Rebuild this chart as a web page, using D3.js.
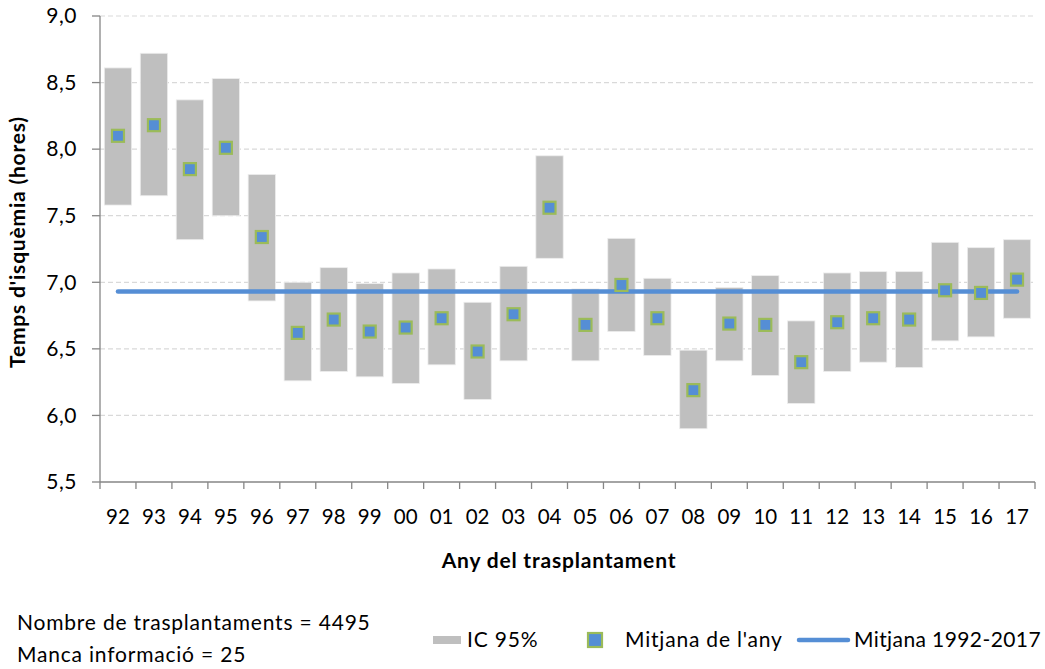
<!DOCTYPE html>
<html>
<head>
<meta charset="utf-8">
<script src="https://cdn.jsdelivr.net/npm/d3@7"></script>
<style>
  html, body { margin: 0; padding: 0; background: #fff; }
  svg { display: block; font-family: Lato, "Open Sans", sans-serif; }
</style>
</head>
<body>
<svg id="chart" width="1045" height="669"></svg>
<script>
const years = ["92","93","94","95","96","97","98","99","00","01","02","03","04","05","06","07","08","09","10","11","12","13","14","15","16","17"];
const yearMean = [8.10, 8.18, 7.85, 8.01, 7.34, 6.62, 6.72, 6.63, 6.66, 6.73, 6.48, 6.76, 7.56, 6.68, 6.98, 6.73, 6.19, 6.69, 6.68, 6.40, 6.70, 6.73, 6.72, 6.94, 6.92, 7.02];
const ciLow  = [7.58, 7.65, 7.32, 7.50, 6.86, 6.26, 6.33, 6.29, 6.24, 6.38, 6.12, 6.41, 7.18, 6.41, 6.63, 6.45, 5.90, 6.41, 6.30, 6.09, 6.33, 6.40, 6.36, 6.56, 6.59, 6.73];
const ciHigh = [8.61, 8.72, 8.37, 8.53, 7.81, 7.00, 7.11, 6.99, 7.07, 7.10, 6.85, 7.12, 7.95, 6.95, 7.33, 7.03, 6.49, 6.96, 7.05, 6.71, 7.07, 7.08, 7.08, 7.30, 7.26, 7.32];
const overallMean = 6.93;
const yTicks = [5.5, 6.0, 6.5, 7.0, 7.5, 8.0, 8.5, 9.0];
const legendLabels = ["IC 95%", "Mitjana de l'any", "Mitjana 1992-2017"];
const noteLines = ["Nombre de trasplantaments = 4495", "Manca informació = 25"];

const svg = d3.select("#chart");
const pL = 100, pR = 1035, pT = 16, pB = 482;

const x = d3.scaleBand().domain(years).range([pL, pR]).padding(0);
const y = d3.scaleLinear().domain([5.5, 9.0]).range([pB, pT]);
const bw = x.bandwidth();
const barW = bw * 0.76;

const fmt = v => d3.format(".1f")(v).replace(".", ",");

// gridlines
svg.append("g").selectAll("line").data(yTicks.filter(t => t > 5.5)).join("line")
  .attr("x1", pL).attr("x2", pR)
  .attr("y1", d => y(d)).attr("y2", d => y(d))
  .attr("stroke", "#D9D9D9").attr("stroke-width", 1.2).attr("stroke-dasharray", "5,3");

// CI bars
svg.append("g").selectAll("rect").data(years).join("rect")
  .attr("x", (d) => x(d) + (bw - barW) / 2)
  .attr("width", barW)
  .attr("y", (d, i) => y(ciHigh[i]))
  .attr("height", (d, i) => y(ciLow[i]) - y(ciHigh[i]))
  .attr("fill", "#BFBFBF")
  .attr("stroke", "#EDEDED").attr("stroke-width", 0.8);

// overall mean line
const lineGen = d3.line().x(d => x(d) + bw / 2).y(() => y(overallMean));
svg.append("path").datum(years)
  .attr("d", lineGen)
  .attr("fill", "none").attr("stroke", "#558ED5").attr("stroke-width", 4.5)
  .attr("stroke-linecap", "round");

// mean markers
const ms = 12;
svg.append("g").selectAll("rect").data(years).join("rect")
  .attr("x", d => x(d) + bw / 2 - ms / 2)
  .attr("y", (d, i) => y(yearMean[i]) - ms / 2)
  .attr("width", ms).attr("height", ms)
  .attr("fill", "#558ED5").attr("stroke", "#9BBB59").attr("stroke-width", 2.2);

// axes
const axisColor = "#868686";
svg.append("line").attr("x1", pL).attr("x2", pL).attr("y1", pT).attr("y2", pB)
  .attr("stroke", axisColor).attr("stroke-width", 1.3);
svg.append("line").attr("x1", pL).attr("x2", pR).attr("y1", pB).attr("y2", pB)
  .attr("stroke", axisColor).attr("stroke-width", 1.3);

// y ticks
const yg = svg.append("g");
yg.selectAll("line").data(yTicks).join("line")
  .attr("x1", pL - 8).attr("x2", pL)
  .attr("y1", d => y(d)).attr("y2", d => y(d))
  .attr("stroke", axisColor).attr("stroke-width", 1.3);
yg.selectAll("text").data(yTicks).join("text")
  .attr("x", 77).attr("y", d => y(d))
  .attr("dy", "0.35em").attr("text-anchor", "end")
  .attr("font-size", 21).attr("letter-spacing", 0.5).attr("fill", "#000")
  .text(fmt);

// x ticks (between categories)
const xTickPos = years.map(d => x(d)).concat([pR]);
svg.append("g").selectAll("line").data(xTickPos).join("line")
  .attr("x1", d => d).attr("x2", d => d)
  .attr("y1", pB).attr("y2", pB + 7)
  .attr("stroke", axisColor).attr("stroke-width", 1.3);
svg.append("g").selectAll("text").data(years).join("text")
  .attr("x", d => x(d) + bw / 2).attr("y", 517)
  .attr("dy", "0.35em").attr("text-anchor", "middle")
  .attr("font-size", 20.5).attr("fill", "#000")
  .text(d => d);

// axis titles
svg.append("text")
  .attr("transform", "translate(18,242) rotate(-90)")
  .attr("text-anchor", "middle").attr("dy", "0.35em")
  .attr("font-size", 21).attr("font-weight", "bold").attr("letter-spacing", 0.8)
  .text("Temps d'isquèmia (hores)");
svg.append("text")
  .attr("x", 559).attr("y", 561).attr("dy", "0.35em")
  .attr("text-anchor", "middle")
  .attr("font-size", 21).attr("font-weight", "bold").attr("letter-spacing", 0.8)
  .text("Any del trasplantament");

// notes
svg.append("g").selectAll("text").data(noteLines).join("text")
  .attr("x", 17).attr("y", (d, i) => 623 + i * 32).attr("dy", "0.35em")
  .attr("font-size", 21).attr("letter-spacing", 0.8).text(d => d);

// legend
const lg = svg.append("g");
const ly = 640;
const lfs = 21;
lg.append("rect").attr("x", 433).attr("y", ly - 4).attr("width", 28).attr("height", 8).attr("fill", "#BFBFBF");
lg.append("text").attr("x", 467).attr("y", ly).attr("dy", "0.35em").attr("font-size", lfs).attr("letter-spacing", 0.8).text(legendLabels[0]);
lg.append("rect").attr("x", 588).attr("y", ly - 7).attr("width", 14).attr("height", 14)
  .attr("fill", "#558ED5").attr("stroke", "#9BBB59").attr("stroke-width", 2.2);
lg.append("text").attr("x", 625).attr("y", ly).attr("dy", "0.35em").attr("font-size", lfs).attr("letter-spacing", 0.8).text(legendLabels[1]);
lg.append("line").attr("x1", 799).attr("x2", 848).attr("y1", ly).attr("y2", ly)
  .attr("stroke", "#558ED5").attr("stroke-width", 4.5).attr("stroke-linecap", "round");
lg.append("text").attr("x", 854).attr("y", ly).attr("dy", "0.35em").attr("font-size", lfs).attr("letter-spacing", 0.4).text(legendLabels[2]);
</script>
</body>
</html>
